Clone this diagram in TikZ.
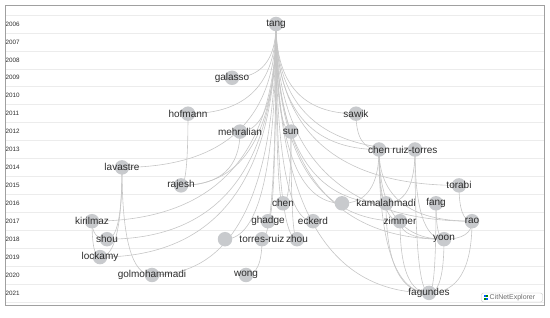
\documentclass[tikz,border=0pt]{standalone}
\usepackage{fontspec}
\setmainfont{Liberation Sans}
\usetikzlibrary{calc,backgrounds}
\definecolor{nodegray}{RGB}{200,202,205}
\definecolor{edgegray}{RGB}{198,198,198}
\definecolor{gridgray}{RGB}{236,236,236}
\definecolor{txt}{RGB}{45,45,45}
\definecolor{framegray}{RGB}{160,160,160}
\definecolor{wmtext}{RGB}{110,110,110}
\tikzset{
  pub/.style={circle, fill=nodegray, minimum size=14.5pt, inner sep=0pt},
  lbl/.style={font=\fontsize{10}{12}\selectfont, text=txt, inner sep=0pt},
  edge/.style={draw=edgegray, line width=0.6pt},
  yearlbl/.style={font=\fontsize{6.3}{7}\selectfont, text=txt, anchor=west, inner sep=0pt},
  gridline/.style={draw=gridgray, line width=0.5pt},
}
\begin{document}
\begin{tikzpicture}[x=1pt,y=-1pt]
\useasboundingbox (0,0) rectangle (550,318);
% publications
\node[pub, label={[lbl]center:tang}] (tang) at (276,24) {};
\node[pub, label={[lbl]center:galasso}] (galasso) at (232,77.8) {};
\node[pub, label={[lbl]center:hofmann}] (hofmann) at (188,113.7) {};
\node[pub, label={[lbl]center:sawik}] (sawik) at (356,113.7) {};
\node[pub, label={[lbl]center:mehralian}] (mehralian) at (240,131.6) {};
\node[pub, label={[lbl]center:sun}] (sun) at (291,131.6) {};
\node[pub, label={[lbl]center:chen}] (chenA) at (379,149.5) {};
\node[pub, label={[lbl]center:ruiz-torres}] (ruiztorres) at (415,149.5) {};
\node[pub, label={[lbl]center:lavastre}] (lavastre) at (122,167.4) {};
\node[pub, label={[lbl]center:rajesh}] (rajesh) at (181,185.4) {};
\node[pub, label={[lbl]center:torabi}] (torabi) at (459,185.4) {};
\node[pub, label={[lbl]center:chen}] (chenB) at (283,203.3) {};
\node[pub] (u16) at (342,203.3) {};
\node[pub, label={[lbl]center:kamalahmadi}] (kamalahmadi) at (386,203.3) {};
\node[pub, label={[lbl]center:fang}] (fang) at (436,203.3) {};
\node[pub, label={[lbl]center:kirilmaz}] (kirilmaz) at (92,221.2) {};
\node[pub, label={[lbl]center:ghadge}] (ghadge) at (268,221.2) {};
\node[pub, label={[lbl]center:eckerd}] (eckerd) at (313,221.2) {};
\node[pub, label={[lbl]center:zimmer}] (zimmer) at (400,221.2) {};
\node[pub, label={[lbl]center:rao}] (rao) at (472,221.2) {};
\node[pub, label={[lbl]center:shou}] (shou) at (107,239.2) {};
\node[pub] (u18) at (225,239.2) {};
\node[pub, label={[lbl]center:torres-ruiz}] (torresruiz) at (262,239.2) {};
\node[pub, label={[lbl]center:zhou}] (zhou) at (297,239.2) {};
\node[pub, label={[lbl]center:yoon}] (yoon) at (444,239.2) {};
\node[pub, label={[lbl]center:lockamy}] (lockamy) at (100,257.1) {};
\node[pub, label={[lbl]center:golmohammadi}] (golmohammadi) at (152,275) {};
\node[pub, label={[lbl]center:wong}] (wong) at (246,275) {};
\node[pub, label={[lbl]center:fagundes}] (fagundes) at (429,292.9) {};
% year axis
\foreach \yy [count=\i from 0] in {2006,...,2021}
  \node[yearlbl] (y\yy) at (5.5,{24+17.93*\i}) {\yy};
% background: grid and citation links
\begin{scope}[on background layer]
  \foreach \i in {0,...,16}
    \draw[gridline] (5,{15+17.93*\i}) -- (544,{15+17.93*\i});
  \foreach \s/\t in {
    tang/galasso, tang/hofmann, tang/mehralian, tang/sun, tang/sawik,
    tang/chenA, tang/ruiztorres, tang/lavastre, tang/rajesh, tang/torabi,
    tang/chenB, tang/u16, tang/kamalahmadi, tang/kirilmaz, tang/ghadge,
    tang/eckerd, tang/shou, tang/u18, tang/torresruiz, tang/zhou,
    tang/lockamy, tang/golmohammadi, tang/fagundes, tang/zimmer,
    tang/yoon, tang/rao,
    hofmann/rajesh, mehralian/rajesh,
    lavastre/shou, lavastre/lockamy, lavastre/golmohammadi,
    kirilmaz/shou, kirilmaz/lockamy,
    sun/chenB, sun/zhou, torresruiz/wong,
    sawik/chenA,
    chenA/u16, chenA/kamalahmadi, chenA/zimmer, chenA/yoon, chenA/fagundes, chenA/rao,
    ruiztorres/kamalahmadi, ruiztorres/yoon, ruiztorres/fagundes,
    torabi/rao, fang/yoon, fang/fagundes, kamalahmadi/fagundes,
    zimmer/fagundes, zimmer/yoon, yoon/fagundes, rao/yoon, rao/fagundes}
  {
    \draw[edge] (\s.center)
      .. controls ($(\s.center)!0.667!(\s.center|-\t.center)$)
      and ($(\t.center)!0.667!(\s.center|-\t.center)$) .. (\t.center);
  }
\end{scope}
% frame
\draw[framegray, line width=0.8pt] (5,5) rectangle (544,305);
% watermark
\node[draw=gray!45, fill=white, rounded corners=2pt, minimum width=61pt,
      minimum height=9pt, inner sep=0pt] (wm) at (512,297.5) {};
\node[font=\fontsize{7}{8}\selectfont, text=wmtext, anchor=west, inner sep=0pt]
      (wmtxt) at (489.5,297.7) {CitNetExplorer};
\fill[blue!65!cyan] (483.8,294.8) rectangle (485.6,297.2);
\fill[green!55!black] (486,294.8) rectangle (487.8,297.2);
\fill[green!55!black] (483.8,297.8) rectangle (485.6,300.2);
\fill[blue!65!cyan] (486,297.8) rectangle (487.8,300.2);
\end{tikzpicture}
\end{document}
